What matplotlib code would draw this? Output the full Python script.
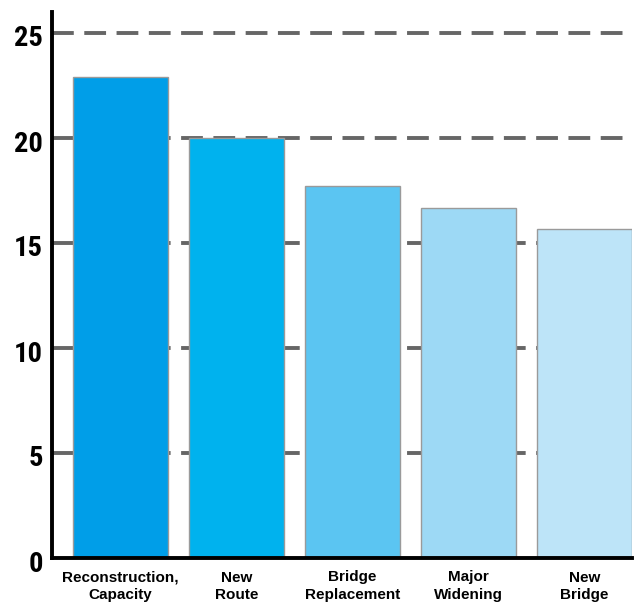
import matplotlib
matplotlib.use("Agg")
import matplotlib.pyplot as plt
import matplotlib.transforms as mtransforms

categories = ["Reconstruction,\nCapacity", "New\nRoute", "Bridge\nReplacement", "Major\nWidening", "New\nBridge"]
values = [22.9, 20.0, 17.7, 16.65, 15.65]
colors = ["#009EE8", "#00B2EE", "#5BC5F2", "#9DD9F5", "#BDE4F8"]
yticks = [0, 5, 10, 15, 20, 25]

plt.rcParams["font.family"] = ["Roboto Condensed", "DejaVu Sans"]
plt.rcParams["font.weight"] = "bold"

fig = plt.figure(figsize=(6.36, 6.06), dpi=100)
W, H = 636, 606
ax = fig.add_axes([52 / W, (H - 558) / H, 580 / W, (558 - 12) / H])

x = list(range(len(categories)))
ax.bar(x, values, width=0.82, color=colors, edgecolor="#9a9a9a", linewidth=1.0, zorder=3)

ax.set_xlim(-0.59, 4.41)
ax.set_ylim(0, 26)
ax.set_yticks(yticks)
ax.set_xticks(x)
ax.tick_params(axis="both", length=0)
ax.tick_params(axis="y", pad=6.5, labelsize=20.5)
ax.tick_params(axis="x", pad=9, labelsize=11)
ax.set_yticklabels([str(t) for t in yticks], fontweight="bold")
ax.set_xticklabels(categories, fontweight="bold", linespacing=1.3,
                   family=["Liberation Sans", "DejaVu Sans"])

offset = mtransforms.ScaledTranslation(0, -3 / 100, fig.dpi_scale_trans)
for lab in ax.get_yticklabels():
    lab.set_transform(lab.get_transform() + offset)

for t in yticks[1:]:
    ax.axhline(t, color="#666666", linewidth=2.8, linestyle=(0, (5.6, 2.7)), zorder=1)

for s in ["top", "right"]:
    ax.spines[s].set_visible(False)
ax.spines["left"].set_linewidth(2.8)
ax.spines["bottom"].set_linewidth(2.8)
ax.spines["left"].set_zorder(5)
ax.spines["bottom"].set_zorder(5)

fig.savefig("out.png", dpi=100)
